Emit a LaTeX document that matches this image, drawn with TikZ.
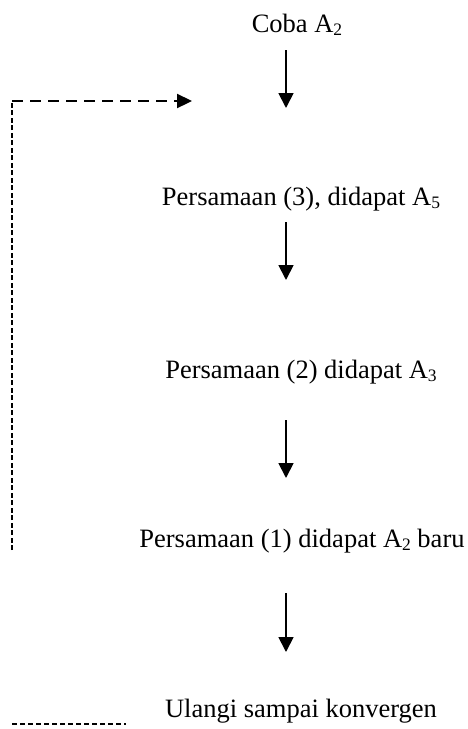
\documentclass[tikz,border=0pt]{standalone}
\usepackage{fontspec}
\setmainfont{Liberation Serif}
\usetikzlibrary{arrows.meta}
\newcommand\lowsub[1]{\raisebox{-0.14em}{\fontsize{17.5}{18}\selectfont #1}}
\begin{document}
\begin{tikzpicture}[x=1pt,y=-1pt,
  lbl/.style={inner sep=0pt,anchor=base,font=\fontsize{26.5}{30}\selectfont},
  flow/.style={line width=1.8pt,-{Triangle[length=15pt,width=15pt]}},
  backarrow/.style={line width=2.3pt,dash pattern=on 11pt off 7pt,-{Triangle[length=15pt,width=14pt]}},
  backline/.style={line width=2.2pt,dash pattern=on 5pt off 2.5pt},
  footline/.style={line width=2.2pt,dash pattern=on 5pt off 3pt}]
\useasboundingbox (0,0) rectangle (468,729);
\node[lbl] (coba) at (297,32) {Coba A\lowsub{2}};
\node[lbl] (p3) at (301,205) {Persamaan (3), didapat A\lowsub{5}};
\node[lbl] (p2) at (301,378) {Persamaan (2) didapat A\lowsub{3}};
\node[lbl] (p1) at (302,547) {Persamaan (1) didapat A\lowsub{2} baru};
\node[lbl] (ul) at (301,717) {Ulangi sampai konvergen};
\coordinate (a1s) at (286,50);  \coordinate (a1e) at (286,108);
\coordinate (a2s) at (286,222); \coordinate (a2e) at (286,280);
\coordinate (a3s) at (286,420); \coordinate (a3e) at (286,478);
\coordinate (a4s) at (286,593); \coordinate (a4e) at (286,652);
\draw[flow] (a1s) -- (a1e);
\draw[flow] (a2s) -- (a2e);
\draw[flow] (a3s) -- (a3e);
\draw[flow] (a4s) -- (a4e);
\coordinate (bb) at (12,550);
\coordinate (bc) at (12,101);
\coordinate (bt) at (192,101);
\draw[backline] (bb) -- (bc);
\draw[backarrow] (bc) -- (bt);
\coordinate (fl) at (12,724);
\coordinate (fr) at (126,724);
\draw[footline] (fl) -- (fr);
\end{tikzpicture}
\end{document}
